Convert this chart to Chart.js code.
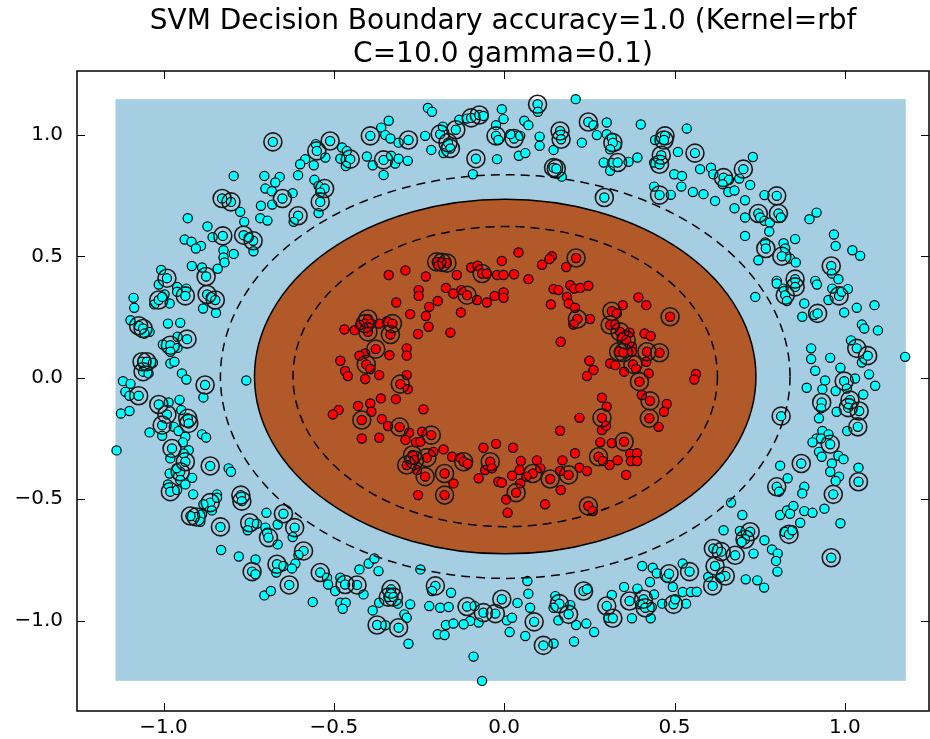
<!DOCTYPE html>
<html>
<head>
<meta charset="utf-8">
<script src="https://cdn.jsdelivr.net/npm/chart.js@4.4.1/dist/chart.umd.min.js"></script>
<style>
  html, body { margin: 0; padding: 0; background: #fff; }
  #wrap { width: 930px; height: 739px; }
</style>
</head>
<body>
<div id="wrap"><canvas id="chart" width="930" height="739"></canvas></div>
<script>
// ---- text and axes ----
const titleLines = ['SVM Decision Boundary accuracy=1.0 (Kernel=rbf', 'C=10.0 gamma=0.1)'];
const xTicks = [-1.0, -0.5, 0.0, 0.5, 1.0];
const yTicks = [-1.0, -0.5, 0.0, 0.5, 1.0];
const xLimits = [-1.254, 1.247];
const yLimits = [-1.372, 1.263];

// ---- decision function grid extent and contour levels (data units) ----
const meshX = [-1.141, 1.179];
const meshY = [-1.248, 1.147];
const contourCenter = [0.003, 0.005];
const marginInnerRadii = [0.623, 0.618];   // decision function = +1
const boundaryRadii = [0.736, 0.730];      // decision function = 0
const marginOuterRadii = [0.836, 0.831];   // decision function = -1

// ---- samples: [x, y, isSupportVector] ----
const outerClass = [
  [-0.679,0.971,1],[-0.794,0.831,0],[-0.704,0.831,0],[-0.659,0.827,0],[-0.672,0.804,0],[-0.701,0.779,0],
  [-0.682,0.768,0],[-0.828,0.738,1],[-0.802,0.724,1],[-0.651,0.738,1],[-0.775,0.683,0],[-0.714,0.708,0],
  [-0.681,0.713,0],[-0.929,0.657,0],[-0.716,0.657,0],[-0.695,0.647,0],[-0.763,0.642,0],[-0.871,0.623,0],
  [-0.826,0.584,1],[-0.856,0.579,0],[-0.765,0.587,1],[-0.737,0.564,1],[-0.750,0.577,0],[-0.938,0.569,0],
  [-0.918,0.560,0],[-0.890,0.543,0],[-0.905,0.532,0],[-0.824,0.525,0],[-0.794,0.510,0],[-0.736,0.521,0],
  [-0.824,0.495,0],[-0.821,0.475,0],[-0.917,0.460,0],[-0.887,0.454,0],[-0.841,0.449,0],[-1.007,0.444,0],
  [-0.990,0.410,1],[-0.875,0.417,1],
  [-0.224,1.111,0],[-0.212,1.095,0],[-0.339,1.058,0],[-0.361,1.030,0],[-0.132,1.062,0],[-0.109,1.067,0],
  [-0.097,1.070,1],[-0.073,1.082,1],[-0.061,1.078,0],[-0.024,1.040,0],[-0.024,0.996,1],[-0.017,0.979,0],
  [-0.393,0.996,1],[-0.349,0.999,0],[-0.334,0.985,0],[-0.310,0.968,0],[-0.281,0.979,1],[-0.232,0.996,0],
  [-0.188,1.003,1],[-0.180,1.034,0],[-0.142,1.021,1],[-0.165,0.968,1],[-0.158,0.944,1],[-0.178,0.925,0],
  [-0.511,0.975,1],[-0.553,0.962,0],[-0.550,0.934,1],[-0.525,0.907,0],[-0.476,0.948,0],[-0.462,0.934,0],
  [-0.481,0.902,0],[-0.452,0.900,1],[-0.465,0.872,0],[-0.584,0.900,0],[-0.599,0.879,0],[-0.559,0.875,0],
  [-0.403,0.911,0],[-0.386,0.875,0],[-0.354,0.897,1],[-0.332,0.914,0],[-0.320,0.882,0],[-0.310,0.902,0],
  [-0.283,0.893,0],[-0.214,0.938,0],[-0.083,0.902,1],[-0.021,0.900,0],[-0.354,0.835,0],[-0.605,0.834,0],
  [-0.092,0.838,0],[-0.557,0.815,0],[-0.545,0.790,0],[-0.527,0.779,1],[-0.540,0.763,0],[-0.540,0.724,1],
  [-0.545,0.678,0],[-0.621,0.760,0],[-0.605,0.667,1],[-0.618,0.642,0],
  [-0.007,1.106,0],[-0.002,1.065,0],[0.098,1.126,1],[0.099,1.095,0],[0.210,1.147,0],[0.059,1.058,0],
  [0.071,1.040,0],[0.032,0.996,0],[0.029,0.985,1],[0.018,1.003,0],[0.047,0.996,0],[0.104,0.993,0],
  [0.104,0.955,0],[0.164,1.016,1],[0.167,0.982,1],[0.145,0.938,0],[0.228,0.968,0],[0.247,1.053,1],
  [0.262,1.040,0],[0.301,1.051,0],[0.272,0.999,0],[0.301,1.003,0],[0.316,0.988,0],[0.321,0.955,0],
  [0.331,0.955,0],[0.319,0.968,1],[0.311,0.941,0],[0.043,0.914,0],[0.062,0.925,0],[0.145,0.865,1],
  [0.153,0.861,1],[0.169,0.828,0],[0.292,0.886,0],[0.316,0.884,0],[0.333,0.886,1],[0.311,0.852,0],
  [0.365,0.889,0],[0.391,0.907,0],[0.401,1.043,0],[0.472,0.996,1],[0.469,0.979,1],[0.443,0.979,0],
  [0.536,1.026,0],[0.461,0.916,1],[0.440,0.886,0],[0.456,0.879,1],[0.510,0.930,0],[0.560,0.925,1],
  [0.294,0.742,1],[0.440,0.787,0],[0.456,0.752,1],[0.489,0.753,0],[0.499,0.838,0],[0.522,0.831,0],
  [0.520,0.787,0],[0.554,0.765,0],[0.585,0.756,0],[0.575,0.859,0],[0.607,0.865,0],[0.614,0.838,0],
  [0.619,0.728,0],
  [0.730,0.909,0],[0.702,0.859,1],[0.690,0.820,0],[0.644,0.824,1],[0.660,0.815,0],[0.641,0.797,0],
  [0.658,0.765,0],[0.676,0.771,0],[0.722,0.794,0],[0.707,0.731,0],[0.676,0.698,0],[0.764,0.752,0],
  [0.800,0.749,1],[0.746,0.676,1],[0.751,0.660,0],[0.764,0.646,0],[0.780,0.639,0],[0.805,0.676,1],
  [0.812,0.660,0],[0.707,0.660,0],[0.778,0.602,0],[0.917,0.680,0],[0.896,0.653,0],[0.968,0.590,0],
  [0.973,0.543,0],[0.854,0.571,0],[0.707,0.584,0],[0.766,0.557,0],[0.768,0.532,1],[0.746,0.484,0],
  [0.820,0.554,0],[0.825,0.532,0],[0.815,0.500,1],[0.839,0.491,0],[0.856,0.475,0],[1.022,0.525,0],
  [1.045,0.502,0],[0.960,0.460,1],[0.962,0.429,0],[0.981,0.406,0],[0.800,0.399,0],[0.854,0.406,1],
  [0.913,0.399,0],
  [-1.014,0.384,0],[-0.960,0.374,0],[-0.933,0.367,0],[-1.088,0.329,0],[-1.086,0.288,0],[-1.027,0.302,0],
  [-1.014,0.320,1],[-0.997,0.343,0],[-0.982,0.306,0],[-1.004,0.333,0],[-0.960,0.354,0],[-0.936,0.337,1],
  [-0.872,0.343,1],[-0.861,0.333,0],[-0.848,0.320,1],[-0.884,0.285,0],[-0.846,0.267,0],[-1.097,0.237,0],
  [-1.073,0.214,1],[-1.060,0.203,1],[-1.041,0.189,0],[-1.056,0.182,0],[-0.987,0.223,0],[-0.951,0.226,0],
  [-0.931,0.159,1],[-0.959,0.169,0],[-1.002,0.137,0],[-0.980,0.134,1],[-0.959,0.123,0],[-0.980,0.107,0],
  [-1.063,0.066,1],[-1.049,0.066,1],[-1.031,0.062,0],[-1.060,0.025,1],[-1.044,0.018,0],[-0.980,0.059,0],
  [-0.968,0.066,0],[-0.946,0.018,0],[-0.933,-0.007,0],[-1.119,-0.014,0],[-1.097,-0.025,0],[-1.112,-0.058,0],
  [-1.100,-0.074,0],[-1.073,-0.074,1],[-0.878,-0.030,1],[-0.883,-0.081,0],[-0.757,-0.011,0],[-1.125,-0.147,0],
  [-1.100,-0.137,0],[-1.014,-0.110,1],[-0.985,-0.102,0],[-0.953,-0.091,0],[-0.990,-0.151,1],[-0.948,-0.133,0],
  [-0.929,-0.167,1],[-0.926,-0.188,1],[-1.004,-0.195,1],[-0.970,-0.202,0],[-0.956,-0.219,0],[-1.041,-0.225,0],
  [-1.004,-0.239,0],[-0.936,-0.243,0],[-0.887,-0.233,0],[-0.875,-0.246,0],[-1.138,-0.299,0],[-0.975,-0.291,1],
  [-0.943,-0.266,0],[-0.926,-0.298,0],[-0.980,-0.332,0],[-0.941,-0.312,0],[-0.936,-0.346,1],[-0.951,-0.387,1],
  [-0.962,-0.373,0],[-0.863,-0.363,1],[-0.809,-0.373,0],[-0.802,-0.387,0],[-0.982,-0.394,0],[-0.916,-0.412,0],
  [-0.951,-0.421,0],[-0.987,-0.439,0],[-0.980,-0.469,1],[-0.960,-0.462,0],[-0.936,-0.439,0],[-0.913,-0.480,0],
  [-0.843,-0.480,0],[-0.773,-0.483,1],
  [-0.863,-0.514,1],[-0.883,-0.521,0],[-0.843,-0.494,0],[-0.858,-0.546,0],[-0.904,-0.573,1],[-0.921,-0.569,1],
  [-0.887,-0.562,0],[-0.892,-0.593,0],[-0.833,-0.614,1],[-0.770,-0.508,1],[-0.747,-0.597,1],[-0.726,-0.601,0],
  [-0.753,-0.628,0],[-0.701,-0.617,0],[-0.696,-0.638,0],[-0.692,-0.658,1],[-0.665,-0.686,0],[-0.665,-0.604,0],
  [-0.698,-0.556,0],[-0.648,-0.560,1],[-0.831,-0.709,0],[-0.779,-0.736,0],[-0.730,-0.748,0],[-0.740,-0.798,1],
  [-0.730,-0.809,0],[-0.667,-0.768,1],[-0.669,-0.802,0],[-0.648,-0.775,0],[-0.704,-0.896,0],[-0.685,-0.878,0],
  [-0.615,-0.617,1],[-0.621,-0.656,0],[-0.589,-0.713,1],[-0.604,-0.730,0],[-0.613,-0.765,0],[-0.623,-0.785,0],
  [-0.631,-0.853,1],[-0.540,-0.802,1],[-0.520,-0.823,0],[-0.517,-0.851,0],[-0.496,-0.878,0],[-0.481,-0.823,0],
  [-0.467,-0.851,1],[-0.432,-0.853,1],[-0.413,-0.892,0],[-0.425,-0.789,0],[-0.398,-0.765,0],[-0.381,-0.744,0],
  [-0.369,-0.796,0],[-0.562,-0.923,0],[-0.481,-0.926,0],[-0.465,-0.926,0],[-0.474,-0.951,0],[-0.386,-0.958,0],
  [-0.367,-0.926,0],[-0.332,-0.871,1],[-0.340,-0.903,1],[-0.325,-0.903,1],[-0.312,-0.930,0],[-0.276,-0.933,0],
  [-0.293,-0.974,0],[-0.286,-0.988,0],[-0.373,-1.018,1],[-0.349,-1.019,0],[-0.310,-1.029,1],[-0.281,-1.095,0],
  [-0.246,-0.789,0],[-0.202,-0.857,1],[-0.212,-0.878,0],[-0.156,-0.885,0],[-0.220,-0.940,0],[-0.188,-0.947,0],
  [-0.163,-0.944,0],[-0.109,-0.942,1],[-0.087,-0.940,0],[-0.061,-0.967,1],[-0.026,-0.971,1],[-0.075,-1.008,0],
  [-0.100,-1.001,0],[-0.171,-1.018,0],[-0.149,-1.012,0],[-0.119,-1.015,0],[-0.195,-1.056,0],[-0.175,-1.059,0],
  [-0.090,-1.148,0],[-0.065,-1.248,0],
  [-0.007,-0.912,1],[0.008,-0.999,0],[0.023,-0.988,0],[0.016,-1.047,0],[0.039,-0.927,0],[0.068,-0.837,0],
  [0.071,-0.889,0],[0.076,-0.947,0],[0.088,-1.005,1],[0.062,-1.063,0],[0.115,-1.102,1],[0.145,-1.094,0],
  [0.150,-0.899,0],[0.162,-0.930,1],[0.145,-0.947,0],[0.194,-0.936,0],[0.189,-0.974,1],[0.159,-0.999,0],
  [0.211,-1.018,0],[0.241,-1.012,0],[0.264,-1.047,0],[0.205,-1.086,0],[0.233,-0.878,1],[0.243,-0.871,0],
  [0.316,-0.894,0],[0.301,-0.940,1],[0.306,-0.988,0],[0.319,-0.990,1],[0.352,-0.861,0],[0.391,-0.868,0],
  [0.375,-0.990,0],[0.368,-0.919,1],[0.409,-0.912,1],[0.399,-0.933,0],[0.414,-0.947,1],[0.433,-0.944,0],
  [0.440,-0.892,0],[0.430,-0.990,0],[0.405,-0.775,0],[0.436,-0.782,0],[0.448,-0.805,0],[0.477,-0.823,0],
  [0.484,-0.807,1],[0.428,-0.841,0],[0.495,-0.861,0],[0.524,-0.765,0],[0.544,-0.798,1],[0.464,-0.930,0],
  [0.497,-0.933,1],[0.502,-0.912,0],[0.534,-0.930,0],[0.524,-0.882,0],[0.548,-0.882,0],[0.565,-0.881,0],
  [0.599,-0.820,0],[0.612,-0.857,1],[0.614,-0.703,1],[0.619,-0.775,1],
  [0.666,-0.514,0],[0.699,-0.565,0],[0.810,-0.565,0],[0.830,-0.546,0],[0.849,-0.528,0],[0.839,-0.560,0],
  [0.881,-0.549,0],[0.905,-0.556,0],[0.940,-0.539,0],[0.869,-0.597,0],[0.987,-0.599,0],[0.644,-0.628,0],
  [0.692,-0.631,0],[0.722,-0.634,1],[0.707,-0.665,1],[0.697,-0.676,0],[0.823,-0.634,0],[0.836,-0.645,1],
  [0.846,-0.628,0],[0.764,-0.669,0],[0.786,-0.707,0],[0.803,-0.724,0],[0.798,-0.754,0],[0.802,-0.798,0],
  [0.732,-0.724,0],[0.678,-0.731,1],[0.637,-0.716,1],[0.649,-0.816,1],[0.634,-0.823,0],[0.709,-0.830,0],
  [0.743,-0.834,0],[0.763,-0.864,0],[0.960,-0.741,1],
  [0.737,0.333,0],[0.800,0.388,0],[0.820,0.367,0],[0.825,0.340,1],[0.830,0.316,0],[0.854,0.374,1],
  [0.918,0.384,0],[0.881,0.306,0],[0.875,0.251,0],[0.911,0.258,0],[0.920,0.265,1],[0.952,0.320,0],
  [0.963,0.367,0],[0.983,0.337,1],[0.991,0.354,0],[1.009,0.365,0],[1.035,0.288,0],[0.998,0.269,0],
  [1.087,0.299,0],[1.050,0.219,0],[1.057,0.203,0],[1.097,0.195,0],[1.018,0.154,0],[1.035,0.121,1],
  [1.050,0.063,0],[1.067,0.091,1],[1.177,0.086,0],[0.901,0.121,0],[0.901,0.077,0],[0.957,0.082,0],
  [0.987,0.041,0],[0.913,0.029,0],[1.071,0.014,0],[1.089,-0.033,0],[0.942,-0.011,0],[0.998,-0.014,1],
  [1.006,-0.044,0],[1.030,-0.003,0],[0.973,-0.055,0],[0.888,-0.041,0],[0.934,-0.047,0],[1.054,-0.069,0],
  [0.932,-0.102,1],[0.930,-0.126,0],[1.015,-0.092,1],[1.010,-0.123,1],[1.042,-0.137,1],[0.976,-0.140,0],
  [0.813,-0.158,1],[0.924,-0.167,0],[1.007,-0.219,0],[1.038,-0.202,1],[0.934,-0.219,0],[0.952,-0.233,0],
  [0.957,-0.274,1],[0.917,-0.250,0],[0.930,-0.250,0],[0.905,-0.266,0],[0.924,-0.305,0],[0.932,-0.325,0],
  [0.981,-0.321,0],[0.996,-0.335,0],[0.962,-0.353,0],[0.872,-0.353,1],[0.810,-0.362,0],[1.040,-0.370,0],
  [1.040,-0.428,1],[0.957,-0.387,0],[0.983,-0.407,0],[0.973,-0.425,0],[0.832,-0.414,0],[0.800,-0.449,1],
  [0.807,-0.469,0],[0.881,-0.449,0],[0.875,-0.476,0],[0.966,-0.480,1]
];

const innerClass = [
  [-0.198,0.477,1],[-0.183,0.475,1],[-0.168,0.472,1],[-0.193,0.461,0],[-0.339,0.423,0],[-0.290,0.442,0],
  [-0.230,0.417,0],[-0.139,0.423,0],[-0.097,0.454,0],[-0.078,0.461,0],[-0.065,0.429,1],[-0.051,0.429,0],
  [-0.021,0.423,0],
  [0.042,0.516,0],[-0.007,0.481,0],[-0.002,0.423,0],[0.029,0.426,0],[0.071,0.406,0],[0.140,0.500,0],
  [0.133,0.489,0],[0.111,0.465,0],[0.182,0.456,0],[0.211,0.493,1],
  [-0.251,0.361,0],[-0.251,0.337,0],[-0.171,0.370,0],[-0.149,0.347,0],[-0.126,0.361,0],[-0.109,0.340,1],
  [-0.080,0.320,0],[-0.051,0.310,0],[-0.028,0.337,0],[-0.317,0.310,0],[-0.276,0.262,0],[-0.230,0.254,0],
  [-0.220,0.292,0],[-0.195,0.316,0],[-0.127,0.269,0],[-0.222,0.210,0],[-0.253,0.180,0],[-0.158,0.186,0],
  [-0.400,0.242,1],[-0.408,0.223,1],[-0.390,0.223,0],[-0.367,0.223,0],[-0.344,0.233,0],[-0.328,0.223,1],
  [-0.400,0.189,1],[-0.334,0.178,1],[-0.469,0.199,0],[-0.439,0.196,0],[-0.423,0.217,0],[-0.377,0.118,1],
  [-0.408,0.100,0],[-0.425,0.091,0],[-0.337,0.093,0],[-0.286,0.121,0],[-0.286,0.091,0],[-0.481,0.070,0],
  [-0.405,0.055,1],[-0.393,0.036,0],[-0.467,0.028,0],[-0.459,0.007,0],[-0.408,-0.005,0],[-0.367,0.011,0],
  [-0.305,-0.026,1],[-0.286,0.011,0],[-0.283,-0.047,0],[-0.362,-0.085,0],[-0.318,-0.088,0],[-0.393,-0.106,0],
  [-0.429,-0.116,0],[-0.390,-0.140,0],[-0.486,-0.133,0],[-0.503,-0.151,0],[-0.418,-0.174,1],[-0.359,-0.170,0],
  [-0.341,-0.199,0],[-0.307,-0.203,1],[-0.237,-0.130,0],[-0.279,-0.226,0],[-0.241,-0.222,0],[-0.214,-0.236,1],
  [-0.290,-0.256,0],[-0.259,-0.266,0],[-0.246,-0.263,0],[-0.418,-0.250,0],[-0.367,-0.247,0],[-0.178,-0.295,0],
  [-0.269,-0.318,1],[-0.263,-0.339,1],[-0.286,-0.359,1],[-0.227,-0.329,1],[-0.208,-0.305,0],[-0.153,-0.325,0],
  [-0.129,-0.329,0],[-0.119,-0.346,1],[-0.107,-0.354,0],[-0.256,-0.380,0],[-0.232,-0.407,1],[-0.175,-0.394,1],
  [-0.149,-0.435,0],[-0.061,-0.288,0],[-0.024,-0.272,0],[-0.041,-0.346,1],[-0.056,-0.380,0],[-0.075,-0.414,0],
  [-0.017,-0.428,0],[-0.036,-0.373,0],[-0.253,-0.483,0],[-0.175,-0.483,1],
  [-0.002,0.351,0],[-0.002,0.329,0],[0.145,0.365,0],[0.159,0.361,0],[0.194,0.381,0],[0.205,0.367,0],
  [0.223,0.370,0],[0.247,0.379,0],[0.184,0.333,0],[0.189,0.306,0],[0.137,0.302,0],[0.208,0.288,0],
  [0.215,0.242,1],[0.203,0.219,0],[0.252,0.242,0],[0.316,0.274,1],[0.331,0.265,0],[0.311,0.217,1],
  [0.326,0.219,0],[0.348,0.299,0],[0.394,0.331,0],[0.417,0.299,0],[0.487,0.251,1],[0.340,0.189,1],
  [0.368,0.186,0],[0.345,0.165,0],[0.358,0.155,1],[0.375,0.128,0],[0.412,0.182,0],[0.430,0.172,0],
  [0.336,0.107,1],[0.350,0.104,1],[0.375,0.107,0],[0.419,0.107,1],[0.456,0.103,1],[0.311,0.059,0],
  [0.326,0.052,0],[0.378,0.055,1],[0.417,0.066,0],[0.387,0.036,0],[0.352,0.025,0],[0.424,0.018,0],
  [0.166,0.148,0],[0.250,0.070,0],[0.262,0.032,0],[0.243,0.007,0],[0.397,-0.016,1],[0.563,0.016,0],
  [0.558,-0.007,0],[0.287,-0.082,0],[0.301,-0.119,0],[0.404,-0.071,0],[0.428,-0.095,1],[0.477,-0.108,0],
  [0.469,-0.140,0],[0.221,-0.165,0],[0.287,-0.165,1],[0.287,-0.215,0],[0.299,-0.198,0],[0.426,-0.167,1],
  [0.453,-0.202,0],[0.164,-0.218,0],[0.282,-0.266,0],[0.316,-0.269,0],[0.352,-0.263,1],[0.370,-0.313,0],
  [0.390,-0.311,0],[0.372,-0.343,0],[0.390,-0.343,0],[0.333,-0.340,0],[0.309,-0.359,0],[0.277,-0.325,1],
  [0.290,-0.343,0],[0.358,-0.400,0],[0.208,-0.311,0],[0.171,-0.340,0],[0.221,-0.370,0],[0.243,-0.384,0],
  [0.026,-0.288,0],[0.049,-0.343,0],[0.096,-0.340,0],[0.106,-0.373,0],[0.084,-0.394,1],[0.135,-0.417,1],
  [0.189,-0.400,1],[0.164,-0.384,0],[0.045,-0.380,0],[0.023,-0.403,0],[0.065,-0.407,0],[0.047,-0.435,0],
  [0.035,-0.473,1],[-0.007,-0.432,0],[0.166,-0.462,0],
  [0.006,-0.501,0],[0.010,-0.556,0],[0.120,-0.521,0],[0.247,-0.528,1],[0.260,-0.549,0]
];

// ---- tick label text ----
const fmtTick = v => (v < 0 ? '\u2212' : '') + Math.abs(v).toFixed(1);
const tickFont = { family: 'DejaVu Sans', size: 20 };

const toXY = arr => arr.map(p => ({ x: p[0], y: p[1] }));
const supportVectors = outerClass.concat(innerClass).filter(p => p[2] === 1);

// Decision regions: light-blue grid extent, brown inside the boundary; contour lines on top of the points.
const decisionRegions = {
  id: 'decisionRegions',
  beforeDatasetsDraw(chart) {
    const { ctx, chartArea: a, scales: { x, y } } = chart;
    ctx.save();
    ctx.beginPath();
    ctx.rect(a.left, a.top, a.right - a.left, a.bottom - a.top);
    ctx.clip();
    const x0 = x.getPixelForValue(meshX[0]), x1 = x.getPixelForValue(meshX[1]);
    const y0 = y.getPixelForValue(meshY[0]), y1 = y.getPixelForValue(meshY[1]);
    ctx.fillStyle = '#a6cee3';
    ctx.fillRect(x0, y1, x1 - x0, y0 - y1);
    ellipsePath(ctx, x, y, boundaryRadii);
    ctx.fillStyle = '#b15928';
    ctx.fill();
    ctx.restore();
  },
  afterDatasetsDraw(chart) {
    const { ctx, scales: { x, y } } = chart;
    ctx.save();
    ctx.strokeStyle = '#000';
    ctx.lineWidth = 1.5;
    ctx.setLineDash([9, 6]);
    ellipsePath(ctx, x, y, marginInnerRadii); ctx.stroke();
    ellipsePath(ctx, x, y, marginOuterRadii); ctx.stroke();
    ctx.setLineDash([]);
    ellipsePath(ctx, x, y, boundaryRadii); ctx.stroke();
    ctx.restore();
  }
};

function ellipsePath(ctx, x, y, radii) {
  const cx = x.getPixelForValue(contourCenter[0]);
  const cy = y.getPixelForValue(contourCenter[1]);
  const rx = Math.abs(x.getPixelForValue(contourCenter[0] + radii[0]) - cx);
  const ry = Math.abs(cy - y.getPixelForValue(contourCenter[1] + radii[1]));
  ctx.beginPath();
  ctx.ellipse(cx, cy, rx, ry, 0, 0, Math.PI * 2);
}

// Box frame with inward tick marks on all four sides.
const axisFrame = {
  id: 'axisFrame',
  afterDraw(chart) {
    const { ctx, chartArea: a, scales: { x, y } } = chart;
    const len = 8;
    ctx.save();
    ctx.strokeStyle = '#000';
    ctx.lineWidth = 1;
    ctx.beginPath();
    x.ticks.forEach(t => {
      const px = Math.round(x.getPixelForValue(t.value)) + 0.5;
      ctx.moveTo(px, a.bottom); ctx.lineTo(px, a.bottom - len);
      ctx.moveTo(px, a.top); ctx.lineTo(px, a.top + len);
    });
    y.ticks.forEach(t => {
      const py = Math.round(y.getPixelForValue(t.value)) + 0.5;
      ctx.moveTo(a.left, py); ctx.lineTo(a.left + len, py);
      ctx.moveTo(a.right, py); ctx.lineTo(a.right - len, py);
    });
    ctx.stroke();
    ctx.lineWidth = 1.5;
    ctx.strokeRect(a.left, a.top, a.right - a.left, a.bottom - a.top);
    ctx.restore();
  }
};

new Chart(document.getElementById('chart'), {
  type: 'scatter',
  data: {
    datasets: [
      {
        label: 'support vectors',
        data: toXY(supportVectors),
        pointRadius: 9,
        pointBackgroundColor: 'rgba(0,0,0,0)',
        pointBorderColor: '#1a1a1a',
        pointBorderWidth: 1.6,
        order: 1
      },
      {
        label: 'class 0',
        data: toXY(outerClass),
        pointRadius: 4.6,
        pointBackgroundColor: '#00ffff',
        pointBorderColor: '#000',
        pointBorderWidth: 1.2,
        order: 2
      },
      {
        label: 'class 1',
        data: toXY(innerClass),
        pointRadius: 4.6,
        pointBackgroundColor: '#ff0000',
        pointBorderColor: '#000',
        pointBorderWidth: 1.2,
        order: 2
      }
    ]
  },
  options: {
    responsive: false,
    animation: false,
    events: [],
    layout: { padding: { left: 0, right: 1, top: 0, bottom: 0 }, autoPadding: false },
    plugins: {
      legend: { display: false },
      tooltip: { enabled: false },
      title: {
        display: true,
        text: titleLines,
        fullSize: false,
        color: '#000',
        font: { family: 'DejaVu Sans', size: 28, weight: 'normal', lineHeight: 1.15 },
        padding: { top: 6, bottom: 0.6 }
      }
    },
    scales: {
      x: {
        type: 'linear',
        min: xLimits[0],
        max: xLimits[1],
        grid: { display: false, drawTicks: false, tickLength: 0 },
        border: { display: false },
        afterBuildTicks: s => { s.ticks = xTicks.map(v => ({ value: v })); },
        afterFit: s => { s.height = 28; },
        ticks: { callback: fmtTick, color: '#000', font: tickFont, padding: 5, maxRotation: 0, autoSkip: false }
      },
      y: {
        type: 'linear',
        min: yLimits[0],
        max: yLimits[1],
        grid: { display: false, drawTicks: false, tickLength: 0 },
        border: { display: false },
        afterBuildTicks: s => { s.ticks = yTicks.map(v => ({ value: v })); },
        afterFit: s => { s.width = 77; },
        ticks: { callback: fmtTick, color: '#000', font: tickFont, padding: 14, autoSkip: false }
      }
    }
  },
  plugins: [decisionRegions, axisFrame]
});
</script>
</body>
</html>
